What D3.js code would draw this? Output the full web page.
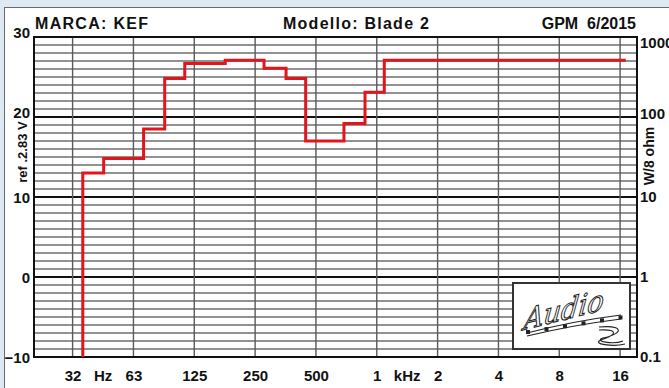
<!DOCTYPE html>
<html>
<head>
<meta charset="utf-8">
<script src="https://cdn.jsdelivr.net/npm/d3@7/dist/d3.min.js"></script>
<style>
  html, body { margin: 0; padding: 0; background: #dfe9f4; }
  svg { display: block; font-family: "Liberation Sans", Arial, sans-serif; font-weight: bold; }
</style>
</head>
<body>
<div id="chart"></div>
<script>
// band edges (Hz) and max level per band (dB)
const bandEdges = [35.5, 45, 70.8, 90, 113, 179, 278, 357, 446, 689, 875, 1089, 16900];
const bandLevels = [13.0, 14.8, 18.5, 24.8, 26.7, 27.1, 26.1, 24.8, 17.0, 19.2, 23.1, 27.1];

// axes
const freqTicks = [31.62, 63.1, 125.9, 251.2, 501.2, 1000, 1995, 3981, 7943, 15849];
const freqLabels = ['32', '63', '125', '250', '500', '1', '2', '4', '8', '16'];
const unitLabels = [{ f: 44.7, text: 'Hz' }, { f: 1413, text: 'kHz' }];
const dbTicks = [30, 20, 10, 0, -10];
const powerTicks = [1000, 100, 10, 1, 0.1];
const powerLabels = ['1000', '100', '10', '1', '0.1'];

const headerLeft = 'MARCA: KEF';
const headerMid = 'Modello: Blade 2';
const headerRight = 'GPM  6/2015';

const width = 669, height = 388;
const margin = { top: 37, right: 32, bottom: 31, left: 34 };
const innerW = width - margin.left - margin.right;
const innerH = height - margin.top - margin.bottom;

const svg = d3.select('#chart')
  .append('svg')
  .attr('width', width)
  .attr('height', height);

// light blue outer frame + white panel
svg.append('rect').attr('width', width).attr('height', height).attr('fill', '#dfe9f4');
svg.append('rect')
  .attr('x', 4.5).attr('y', 7.5)
  .attr('width', width + 10).attr('height', height + 10)
  .attr('fill', '#fff').attr('stroke', '#6b6b6b').attr('stroke-width', 1);

const g = svg.append('g').attr('transform', `translate(${margin.left},${margin.top})`);

// scales
const x = d3.scaleLog().domain([20.4, 19200]).range([0, innerW]);
const y = d3.scaleLinear().domain([-10, 30]).range([innerH, 0]);
const yPow = d3.scaleLog().domain([0.1, 1000]).range([innerH, 0]);

// horizontal grid, 1 dB
g.append('g')
  .selectAll('line')
  .data(d3.range(-9, 30))
  .join('line')
  .attr('x1', 0).attr('x2', innerW)
  .attr('y1', d => y(d)).attr('y2', d => y(d))
  .attr('stroke', d => d % 10 === 0 ? '#111' : '#262626')
  .attr('stroke-width', d => d % 10 === 0 ? 2 : 1.1);

// vertical grid at octave centres
g.append('g')
  .selectAll('line')
  .data(freqTicks)
  .join('line')
  .attr('x1', d => x(d)).attr('x2', d => x(d))
  .attr('y1', 0).attr('y2', innerH)
  .attr('stroke', '#5a5a5a')
  .attr('stroke-width', 1.4);

// plot border
g.append('rect')
  .attr('width', innerW).attr('height', innerH)
  .attr('fill', 'none').attr('stroke', '#111').attr('stroke-width', 2);

// logo box (bottom right)
const logo = g.append('g').attr('transform', `translate(${innerW - 124},${innerH - 74})`);
logo.append('rect')
  .attr('width', 117).attr('height', 66)
  .attr('fill', '#fff').attr('stroke', '#333').attr('stroke-width', 2);
logo.append('text')
  .attr('x', 62).attr('y', 34)
  .attr('text-anchor', 'middle')
  .attr('transform', 'rotate(-14,62,34) skewX(-20)')
  .attr('font-family', '"DejaVu Serif", serif')
  .attr('font-style', 'italic')
  .attr('font-weight', 'normal')
  .attr('font-size', 28)
  .attr('fill', '#fff').attr('stroke', '#222').attr('stroke-width', 1)
  .text('Audio');
logo.append('path')
  .attr('d', 'M14,50 Q60,38 108,32 M14,53 Q60,42 108,36')
  .attr('fill', 'none').attr('stroke', '#222').attr('stroke-width', 1.2);
logo.append('g')
  .selectAll('rect')
  .data([0, 1, 2, 3, 4, 5])
  .join('rect')
  .attr('x', d => 13 + d * 18.5).attr('y', d => 47 - d * 2.9)
  .attr('width', 4).attr('height', 4).attr('fill', '#222');
logo.append('path')
  .attr('d', 'M86,44 C110,42 112,50 90,55 C80,58 100,62 110,58 M86,47 C104,46 106,51 88,57 C78,61 100,64 112,61')
  .attr('fill', 'none').attr('stroke', '#222').attr('stroke-width', 1.1);

// response step line
const pts = [{ f: bandEdges[0], v: -10 }]
  .concat(bandLevels.map((v, i) => ({ f: bandEdges[i], v })))
  .concat([{ f: bandEdges[bandEdges.length - 1], v: bandLevels[bandLevels.length - 1] }]);

const line = d3.line()
  .x(d => x(d.f))
  .y(d => y(d.v))
  .curve(d3.curveStepAfter);

g.append('path')
  .datum(pts)
  .attr('fill', 'none')
  .attr('stroke', '#e3141c')
  .attr('stroke-width', 3)
  .attr('d', line);

// left axis labels
const leftAxis = g.append('g')
  .call(d3.axisLeft(y).tickValues(dbTicks).tickSize(0).tickPadding(4).tickFormat(d3.format('d')));
leftAxis.select('.domain').remove();
leftAxis.selectAll('text')
  .attr('font-size', 15).attr('fill', '#111')
  .attr('font-family', '"Liberation Sans", Arial, sans-serif')
  .attr('dy', d => d >= 20 ? '0em' : '0.36em');

// right axis labels
const rightAxis = g.append('g')
  .attr('transform', `translate(${innerW},0)`)
  .call(d3.axisRight(yPow).tickValues(powerTicks).tickSize(0).tickPadding(3)
    .tickFormat((d, i) => powerLabels[i]));
rightAxis.select('.domain').remove();
rightAxis.selectAll('text')
  .attr('font-size', 15).attr('fill', '#111')
  .attr('font-family', '"Liberation Sans", Arial, sans-serif')
  .attr('dy', d => d === 1000 ? '0.68em' : (d === 100 ? '0.1em' : '0.3em'));

// bottom axis labels
const bottomAxis = g.append('g')
  .attr('transform', `translate(0,${innerH})`)
  .call(d3.axisBottom(x).tickValues(freqTicks).tickSize(0).tickPadding(13)
    .tickFormat((d, i) => freqLabels[i]));
bottomAxis.select('.domain').remove();
bottomAxis.selectAll('text')
  .attr('font-size', 15).attr('fill', '#111')
  .attr('font-family', '"Liberation Sans", Arial, sans-serif');

g.append('g')
  .selectAll('text')
  .data(unitLabels)
  .join('text')
  .attr('x', d => x(d.f)).attr('y', innerH + 24)
  .attr('text-anchor', 'middle')
  .attr('font-size', 15).attr('fill', '#111')
  .text(d => d.text);

// rotated axis titles
svg.append('text')
  .attr('transform', 'translate(27,152) rotate(-90)')
  .attr('text-anchor', 'middle')
  .attr('font-size', 13).attr('fill', '#111')
  .text('ref .2.83 V');

svg.append('text')
  .attr('transform', 'translate(654,156) rotate(-90)')
  .attr('text-anchor', 'middle')
  .attr('font-size', 14).attr('fill', '#111')
  .text('W/8 ohm');

// header
const header = svg.append('g').attr('font-size', 16).attr('fill', '#111');
header.append('text').attr('x', 35).attr('y', 29)
  .attr('letter-spacing', 1.3).text(headerLeft);
header.append('text').attr('x', 283).attr('y', 29)
  .attr('letter-spacing', 1.25).text(headerMid);
header.append('text').attr('x', 636).attr('y', 29).attr('text-anchor', 'end')
  .style('white-space', 'pre').text(headerRight);
</script>
</body>
</html>
